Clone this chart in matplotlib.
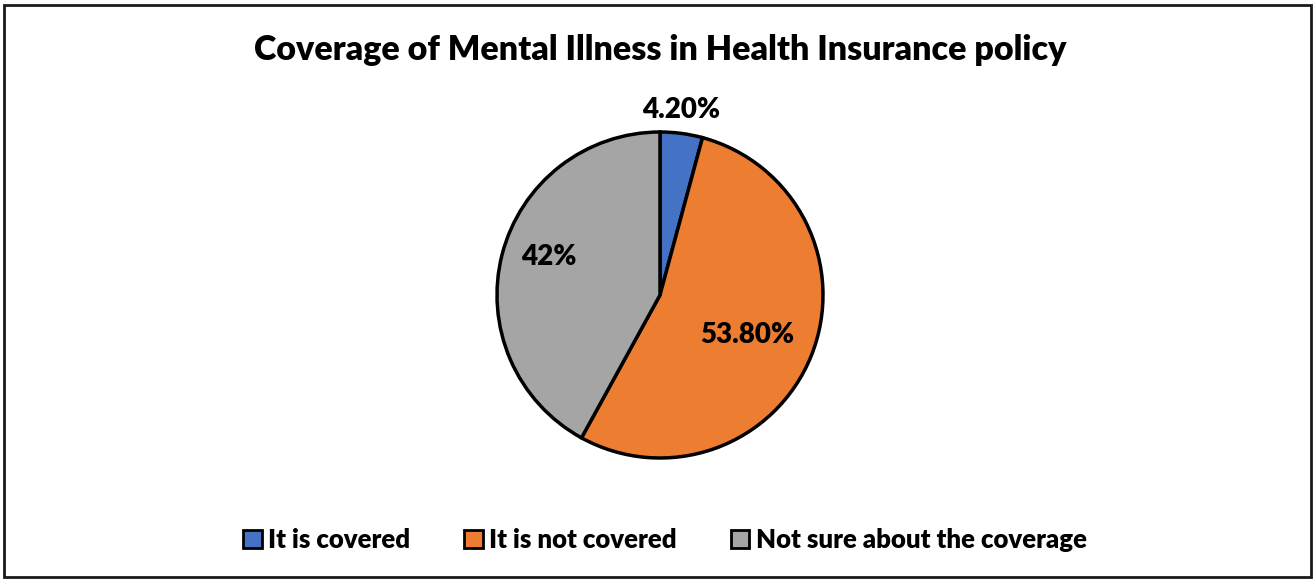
import numpy as np
import matplotlib.pyplot as plt
from matplotlib.patches import Rectangle

labels = ["It is covered", "It is not covered", "Not sure about the coverage"]
values = [4.2, 53.8, 42.0]
pct_text = ["4.20%", "53.80%", "42%"]
colors = ["#4472C4", "#ED7D31", "#A5A5A5"]

# label placement (radius fraction, angle nudge in degrees)
label_dist = [1.14, 0.59, 0.72]
label_shift = [1.0, -2.7, -4.5]

plt.rcParams['font.family'] = ['Lato', 'DejaVu Sans']

fig = plt.figure(figsize=(13.15, 5.81), dpi=100)
W, H = 1315, 581

# pie axes: centre (660, 295), radius 163 px
cx, cy, r = 660, 295, 163
ax = fig.add_axes([(cx - r) / W, (H - cy - r) / H, 2 * r / W, 2 * r / H])
wedges, _ = ax.pie(values, colors=colors, startangle=90, counterclock=False,
                   radius=1, wedgeprops=dict(edgecolor="black", linewidth=2.5))
ax.set_xlim(-1, 1)
ax.set_ylim(-1, 1)
ax.set_aspect("equal")
ax.axis("off")

for w, txt, d, s in zip(wedges, pct_text, label_dist, label_shift):
    ang = np.deg2rad((w.theta1 + w.theta2) / 2 + s)
    ax.text(d * np.cos(ang), d * np.sin(ang), txt, ha="center", va="center",
            fontsize=20, fontweight="heavy", clip_on=False)

fig.text(660 / W, 1 - 50 / H, "Coverage of Mental Illness in Health Insurance policy",
         ha="center", va="center", fontsize=24.5, fontweight="heavy")

leg = fig.legend(wedges, labels, loc="center", bbox_to_anchor=(665 / W, 1 - 540 / H),
                 ncol=3, frameon=False, prop=dict(size=18.5, weight="heavy"),
                 handlelength=0.72, handleheight=0.72, handletextpad=0.25,
                 columnspacing=2.1)
for h in leg.legend_handles:
    h.set_linewidth(2)

fig.patches.append(Rectangle((4 / W, 4 / H), 1 - 8 / W, 1 - 9 / H,
                             transform=fig.transFigure, fill=False,
                             edgecolor="#1a1a1a", linewidth=2))

fig.savefig("out.png", dpi=100)
